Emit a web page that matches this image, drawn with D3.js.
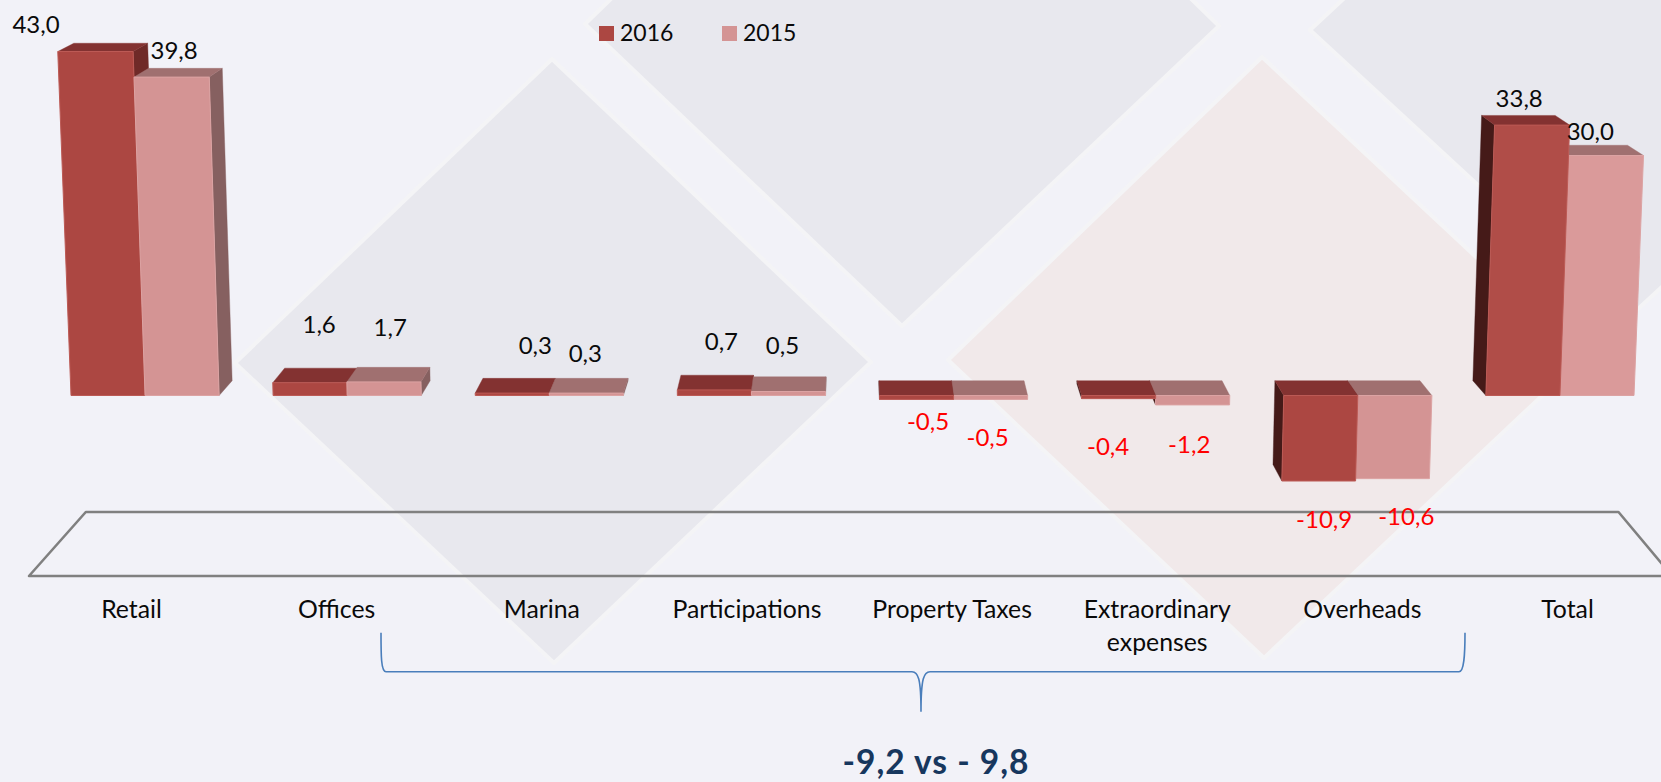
<!DOCTYPE html>
<html><head><meta charset="utf-8">
<script src="https://cdn.jsdelivr.net/npm/d3@7/dist/d3.min.js"></script>
<style>html,body{margin:0;padding:0;background:#F2F2F8;overflow:hidden}svg{display:block}text{font-family:Lato,"Noto Sans",sans-serif}</style>
</head><body>
<svg id="c" width="1661" height="782"></svg>
<script>
const categories = ["Retail","Offices","Marina","Participations","Property Taxes","Extraordinary expenses","Overheads","Total"];
const seriesNames = ["2016","2015"];
const values2016 = [43.0,1.6,0.3,0.7,-0.5,-0.4,-10.9,33.8];
const values2015 = [39.8,1.7,0.3,0.5,-0.5,-1.2,-10.6,30.0];
const summaryText = "-9,2 vs - 9,8";

// label nudges relative to each bar's centre / value position: [dx2016, dy2016, dx2015, dy2015]
const labelNudge = [[-72,-18.5,-8,-18.3],[9,-49.7,6,-46],[23,-39,-1,-31],[7,-40,-6,-38],
  [11.5,31,-3,47],[-10.5,56,-3.5,48],[3.4,47.3,11.4,46.7],[-3.7,-18.5,-6.7,-15.5]];
const palette = {
  "2016":{front:"#AC4742",top:"#833231",right:"#6F2A28",left:"#451A18",edge:"#BC5A55"},
  "2015":{front:"#D49494",top:"#A07070",right:"#866060",left:"#451A18",edge:"#DCA3A3"}
};
const totalFront = {"2016":"#B04D48","2015":"#DA9A9A"};

const svg = d3.select("#c");
const W = 1661, H = 782;
svg.append("rect").attr("width",W).attr("height",H).attr("fill","#F2F2F8");

// background diamonds
const diamonds = [
  {p:[[235,363],[552,59],[871,362],[554,663]],f:"#E8E8EE"},
  {p:[[585,24],[902,-283],[1219,26],[902,326]],f:"#E8E8EE"},
  {p:[[1310,30],[1625,-263],[1940,30],[1625,321]],f:"#E8E8EE"},
  {p:[[948,360],[1262,57],[1583,357],[1264,658]],f:"#F1E9EA"}
];
svg.append("g").selectAll("polygon").data(diamonds).join("polygon")
  .attr("points",d=>d.p.join(" ")).attr("fill",d=>d.f)
  .attr("stroke","#F4F4F6").attr("stroke-width",4).attr("stroke-linejoin","round");

// scales
const y = d3.scaleLinear().domain([-10.9,0,43]).range([481,395.5,51.5]);
const x0 = d3.scaleBand().domain(categories).range([71,1634]).paddingInner(0.267).paddingOuter(0);
const x1 = d3.scaleBand().domain(seriesNames).range([0,x0.bandwidth()]);
const labelX = d3.scalePoint().domain(categories).range([131,1567]);
const fmt = d3.formatLocale({decimal:",",thousands:".",grouping:[3],currency:["",""],minus:"-"}).format(".1f");

// 3-D projection
const leanCx = 840, lean = 5e-5, depthCx = 853, depthK = -0.0205;
function proj(xb,v,back){
  const t = y(0)-y(v), fy = y(v), fx = xb+(xb-leanCx)*lean*t;
  if(!back) return [fx,fy];
  return [fx+depthK*(xb-depthCx), fy-(14.8+0.019*(fy-y(0)))];
}

// platform
svg.append("path").attr("d","M29,576 L85.8,512 L1618.5,512 L1672,576 Z")
  .attr("fill","none").attr("stroke","#808080").attr("stroke-width",2.6).attr("stroke-linejoin","round");

// bars
const bars = svg.append("g");
categories.forEach((cat,i)=>{
  const rows = seriesNames.map((s,k)=>({cat,s,k,v:(k?values2015:values2016)[i]}));
  const left = x0(cat) < depthCx;
  (left?rows:rows.slice().reverse()).forEach(r=>{
    const a = x0(cat)+x1(r.s), b = a+x1.bandwidth();
    const hi = Math.max(r.v,0), lo = Math.min(r.v,0);
    const c = palette[r.s];
    const g = bars.append("g");
    const poly = (pts,fill,stroke)=>g.append("polygon").attr("points",pts.join(" ")).attr("fill",fill)
        .attr("stroke",stroke||fill).attr("stroke-width",stroke?1:0.4).attr("stroke-linejoin","round");
    if(left) poly([proj(b,hi,false),proj(b,hi,true),proj(b,lo,true),proj(b,lo,false)],c.right);
    else poly([proj(a,hi,false),proj(a,hi,true),proj(a,lo,true),proj(a,lo,false)],c.left);
    poly([proj(a,hi,false),proj(a,hi,true),proj(b,hi,true),proj(b,hi,false)],c.top);
    poly([proj(a,hi,false),proj(b,hi,false),proj(b,lo,false),proj(a,lo,false)],
         cat==="Total"?totalFront[r.s]:c.front,c.edge);
  });
});

// value labels
categories.forEach((cat,i)=>{
  seriesNames.forEach((s,k)=>{
    const v = (k?values2015:values2016)[i], n = labelNudge[i];
    svg.append("text").attr("x",x0(cat)+x1(s)+x1.bandwidth()/2+n[k*2]).attr("y",y(v)+n[k*2+1])
      .attr("text-anchor","middle").attr("font-size",24).attr("fill",v<0?"#FF0000":"#0A0A0A").text(fmt(v));
  });
});

// category axis
const axis = svg.append("g").attr("transform","translate(0,600)")
  .call(d3.axisBottom(labelX).tickSize(0).tickPadding(0));
axis.select(".domain").remove();
axis.selectAll("text").attr("font-size",24.8).attr("fill","#0A0A0A").attr("dy",null).attr("y",18.3)
  .style("font-family","Lato").each(function(d){
    const t = d3.select(this), words = d.split(" ");
    if(d==="Extraordinary expenses"){
      t.text(null);
      words.forEach((w,j)=>t.append("tspan").attr("x",0).attr("y",18.3+j*32.4).text(w));
    }
  });

// legend
const leg = svg.append("g");
seriesNames.forEach((s,k)=>{
  const lx = d3.scaleOrdinal().domain(seriesNames).range([599,722])(s);
  leg.append("rect").attr("x",lx).attr("y",26).attr("width",15).attr("height",15).attr("fill",palette[s].front);
  leg.append("text").attr("x",lx+21).attr("y",40.7).attr("font-size",23).attr("fill","#0A0A0A").text(s);
});

// brace
svg.append("path")
  .attr("d","M381,632.7 C381,655 381,671.7 386,671.7 L912,671.7 C918,671.7 921,678 921,711.7 C921,678 924,671.7 930,671.7 L1459,671.7 C1464,671.7 1465,655 1465,632.7")
  .attr("fill","none").attr("stroke","#4A7EBB").attr("stroke-width",1.6);

svg.append("text").attr("x",936).attr("y",774).attr("text-anchor","middle").attr("font-size",33.5)
  .attr("letter-spacing",1).attr("font-weight",700).attr("fill","#17375E").text(summaryText);
</script>
</body></html>
